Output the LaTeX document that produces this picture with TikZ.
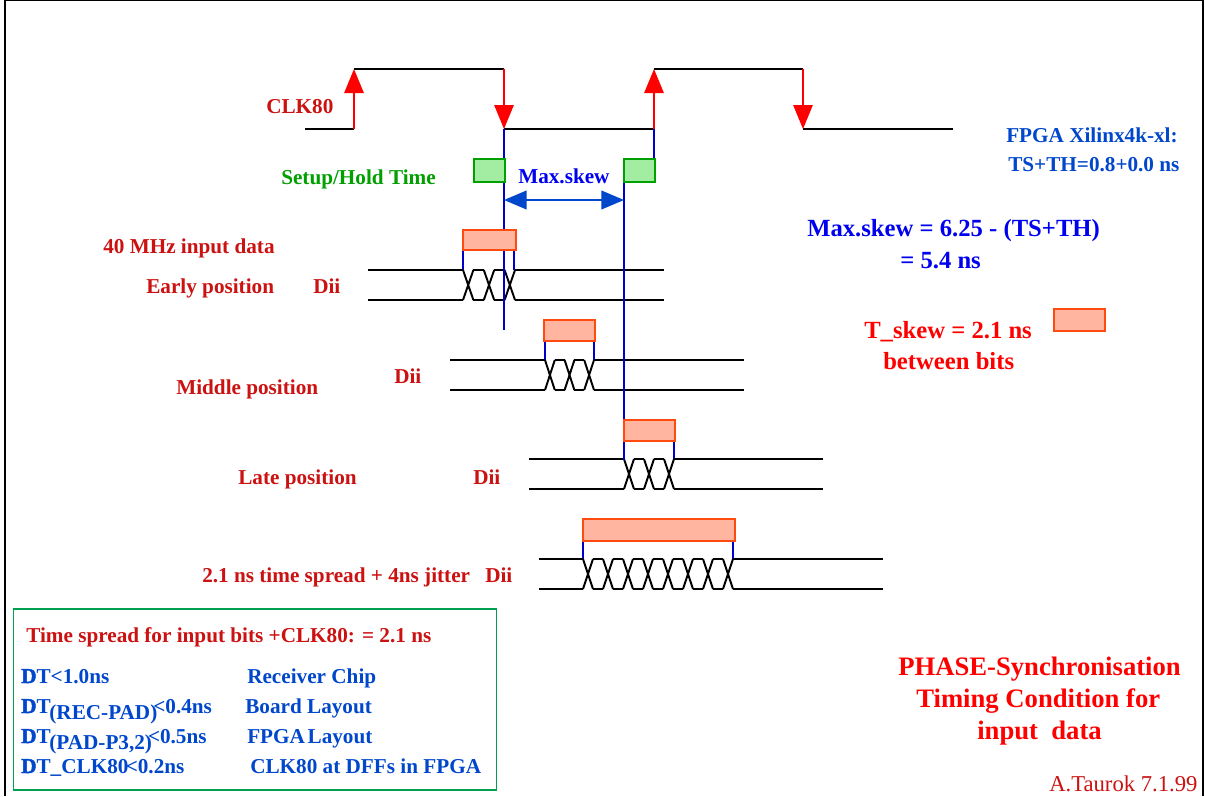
\documentclass[tikz,border=0pt]{standalone}
\usepackage{fontspec}
\setmainfont{Liberation Serif}[BoldFont={Liberation Serif Bold}]
\newfontfamily\thickD{Liberation Serif Bold}[FakeBold=2]
\usetikzlibrary{arrows.meta}
\definecolor{dred}{HTML}{CC1111}
\definecolor{rred}{HTML}{FF0000}
\definecolor{bblue}{HTML}{0000F0}
\definecolor{mblue}{HTML}{0047CC}
\definecolor{vblue}{HTML}{0000CC}
\definecolor{ggreen}{HTML}{00A000}
\definecolor{gfill}{HTML}{A3EDA3}
\definecolor{ofill}{HTML}{FFB5A0}
\definecolor{oline}{HTML}{FF4A10}
\definecolor{bxgreen}{HTML}{00A050}
\newcommand\DD{{\thickD D}}
\tikzset{
 x=0.75pt,y=-0.75pt,
 wave/.style={black,line width=1.45pt},
 clkarrow/.style={rred,line width=1.4pt,-{Triangle[length=18pt,width=14.5pt]}},
 vline/.style={vblue,line width=1.4pt},
 skewarrow/.style={mblue,line width=1.4pt,{Triangle[length=17pt,width=14pt]}-{Triangle[length=17pt,width=14pt]}},
 setupbox/.style={draw=ggreen,fill=gfill,line width=1.3pt,inner sep=0pt,outer sep=0pt},
 skewbox/.style={draw=oline,fill=ofill,line width=1.3pt,inner sep=0pt,outer sep=0pt},
 lbl/.style={inner sep=0pt,anchor=base west,font=\bfseries},
 t20/.style={lbl,font=\bfseries\fontsize{15.9pt}{17pt}\selectfont},
 big/.style={lbl,font=\bfseries\fontsize{18.5pt}{20pt}\selectfont},
 huge/.style={lbl,font=\bfseries\fontsize{20pt}{22pt}\selectfont},
}
\newcommand\boxat[5]{\node[#5,minimum width=#3*0.75pt,minimum height=#4*0.75pt,anchor=north west] (#1) at #2 {};}
% \eye{xs}{xe}{ncross}{top}{bot}{left}{right}
\newcommand\eye[7]{%
 \draw[wave] (#6,#4) -- (#1,#4) (#6,#5) -- (#1,#5) (#2,#4) -- (#7,#4) (#2,#5) -- (#7,#5);
 \pgfmathsetmacro\cw{(#2-#1)/(2*#3-1)}
 \pgfmathtruncatemacro\lastc{#3-1}
 \foreach \i in {0,...,\lastc}{
  \pgfmathsetmacro\xa{#1+2*\i*\cw}
  \pgfmathsetmacro\xb{\xa+\cw}
  \pgfmathsetmacro\xc{\xb+\cw}
  \draw[wave,line join=round] (\xa,#4) -- (\xb,#5) (\xa,#5) -- (\xb,#4);
  \ifnum\i<\lastc\relax
   \draw[wave] (\xb,#4) -- (\xc,#4) (\xb,#5) -- (\xc,#5);
  \fi
 }%
}
\begin{document}
\begin{tikzpicture}
\useasboundingbox (0,0) rectangle (1205,796);
\fill[white] (0,0) rectangle (1205,796);
% outer frame
\draw[black,line width=1.5pt] (5,796) -- (5,0) -- (1203,0) -- (1203,796);
% clock
\coordinate (c0) at (305,129);
\coordinate (c1) at (354,129);
\coordinate (c2) at (354,69);
\coordinate (c3) at (504,69);
\coordinate (c4) at (504,129);
\coordinate (c5) at (654,129);
\coordinate (c6) at (654,69);
\coordinate (c7) at (803,69);
\coordinate (c8) at (803,129);
\coordinate (c9) at (953,129);
\draw[wave] (c0) -- (c1) (c2) -- (c3) (c4) -- (c5) (c6) -- (c7) (c8) -- (c9);
% verticals
\coordinate (v1e) at (504,330);
\coordinate (v2e) at (624,460);
\coordinate (v2s) at (624,182);
\coordinate (v3s) at (654,159);
\draw[vline] (c5) -- (v3s);
\draw[clkarrow] (c1) -- (c2);
\draw[clkarrow] (c3) -- (c4);
\draw[clkarrow] (c5) -- (c6);
\draw[clkarrow] (c7) -- (c8);
% eyes
\draw[vline] (463,250) -- (463,270) (514,250) -- (514,270);
\draw[vline] (545,341) -- (545,360) (594,341) -- (594,360);
\draw[vline] (674,441) -- (674,459);
\draw[vline] (583,541) -- (583,559) (733,541) -- (733,559);
\eye{463}{515}{3}{270}{300}{368}{664}
\eye{545}{594}{3}{360}{390}{450}{744}
\eye{624}{674}{3}{459}{489}{529}{823}
\eye{583}{733}{8}{559}{589}{539}{883}
\draw[vline] (c4) -- (v1e);
\draw[vline] (v2s) -- (v2e);
% setup boxes
\boxat{su1}{(474,159)}{31}{23}{setupbox}
\boxat{su2}{(624,159)}{31}{23}{setupbox}
\coordinate (a1) at (504,200);
\coordinate (a2) at (624,200);
\draw[skewarrow] (a1) -- (a2);
\boxat{b1}{(463,230)}{53}{20}{skewbox}
\boxat{b2}{(544,320)}{51}{21}{skewbox}
\boxat{b3}{(624,420)}{51}{21}{skewbox}
\boxat{b4}{(583,519)}{152}{22}{skewbox}
\boxat{b5}{(1054,309)}{51}{22}{skewbox}
% labels
\node[t20,text=dred] (l1) at (266,113) {CLK80};
\node[t20,text=ggreen] (l2) at (281,184) {Setup/Hold Time};
\node[t20,text=bblue] (l3) at (518,183) {Max.skew};
\node[t20,text=mblue] (l4) at (1006,142) {FPGA Xilinx4k-xl:};
\node[t20,text=mblue] (l5) at (1008,171) {TS+TH=0.8+0.0 ns};
\node[big,text=bblue] (l6) at (807,236) {Max.skew = 6.25 - (TS+TH)};
\node[big,text=bblue] (l7) at (900,268) {= 5.4 ns};
\node[big,text=rred] (l8) at (864,338) {T\_skew = 2.1 ns};
\node[big,text=rred] (l9) at (883,369) {between bits};
\node[t20,text=dred] (l10) at (103,253) {40 MHz input data};
\node[t20,text=dred] (l11) at (146,293) {Early position};
\node[t20,text=dred] (l12) at (313,293) {Dii};
\node[t20,text=dred] (l13) at (176,394) {Middle position};
\node[t20,text=dred] (l14) at (394,383) {Dii};
\node[t20,text=dred] (l15) at (238,484) {Late position};
\node[t20,text=dred] (l16) at (473,484) {Dii};
\node[t20,text=dred] (l17) at (202,582) {2.1 ns time spread + 4ns jitter};
\node[t20,text=dred] (l18) at (485,582) {Dii};
\node[huge,text=rred] (l19) at (898,675) {PHASE-Synchronisation};
\node[huge,text=rred] (l20) at (916,707) {Timing Condition for};
\node[huge,text=rred] (l21) at (977,739) {input\ \ data};
\node[lbl,font=\fontsize{17pt}{18pt}\selectfont,text=dred] (l22) at (1049,791) {A.Taurok 7.1.99};
% bottom box
\node[draw=bxgreen,line width=1.3pt,inner sep=0pt,outer sep=0pt,minimum width=483*0.75pt,minimum height=181*0.75pt,anchor=north west] (bx) at (13.5,609) {};
\node[t20,text=dred] (m0) at (26,642) {Time spread for input bits +CLK80: = 2.1 ns};
\node[t20,text=mblue] (m1) at (21,683) {\DD T<1.0ns};
\node[t20,text=mblue] (m2) at (21,713) {\DD T\kern-1pt\raisebox{-5pt}{(REC-PAD)}\kern-3pt<0.4ns};
\node[t20,text=mblue] (m3) at (21,743) {\DD T\kern-1pt\raisebox{-5pt}{(PAD-P3,2)}\kern-3pt<0.5ns};
\node[t20,text=mblue] (m4) at (21,773) {\DD T\_CLK80\kern-2pt<0.2ns};
\node[t20,text=mblue] (n1) at (247,683) {Receiver Chip};
\node[t20,text=mblue] (n2) at (245,713) {Board Layout};
\node[t20,text=mblue] (n3) at (247,743) {FPGA\kern2pt Layout};
\node[t20,text=mblue] (n4) at (250,773) {CLK80 at DFFs in FPGA};
\end{tikzpicture}
\end{document}
